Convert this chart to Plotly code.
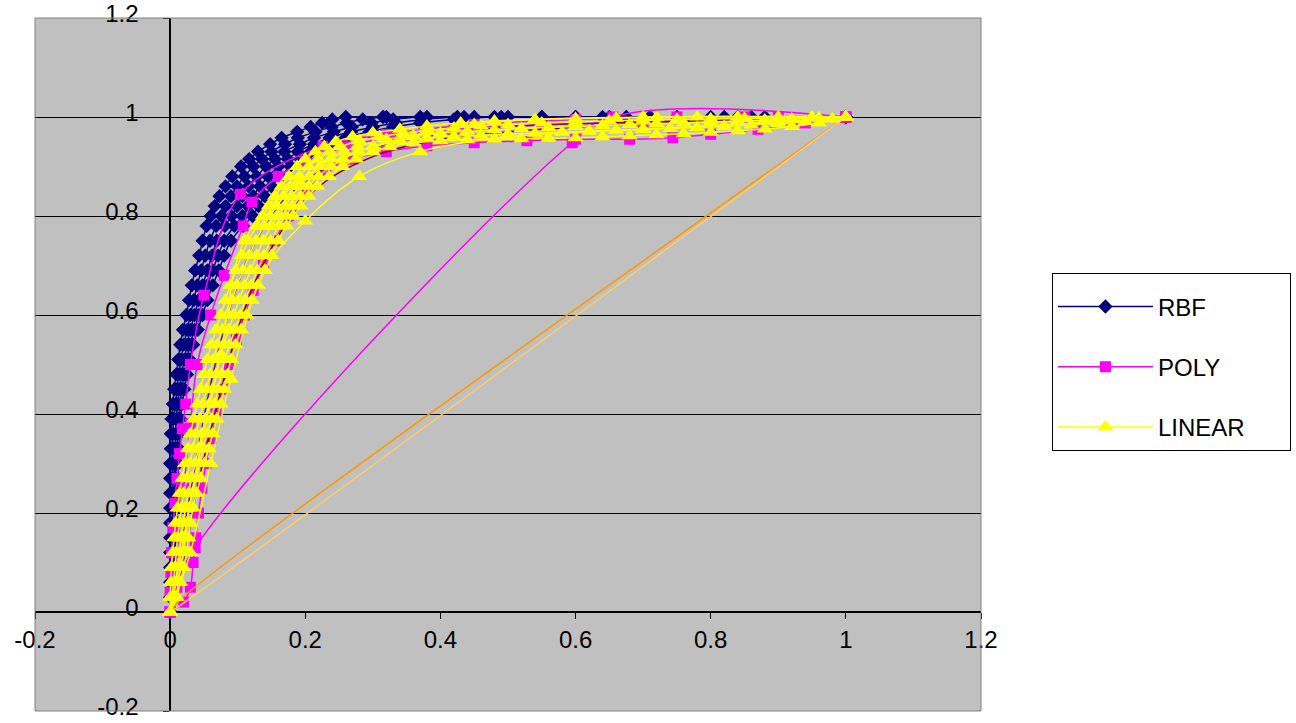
import plotly.graph_objects as go

# ---------------- data ----------------
# RBF runs (navy, diamonds): shared TPR levels, one FPR list per run
rbf_y = [0, 0.03, 0.06, 0.09, 0.12, 0.15, 0.18, 0.21, 0.24, 0.27, 0.3, 0.33, 0.36, 0.39, 0.42, 0.45, 0.48,
         0.51, 0.54, 0.57, 0.6, 0.63, 0.66, 0.69, 0.72, 0.75, 0.78, 0.8, 0.82, 0.84, 0.86, 0.88, 0.9, 0.915,
         0.93, 0.945, 0.958, 0.97, 0.98, 0.988, 0.995, 1, 1, 1, 1, 1, 1]
rbf1_x = [0, 0, 0, 0, 0, 0, 0, 0, 0, 0, 0, 0.001, 0.001, 0.002, 0.004, 0.006, 0.009, 0.012, 0.015, 0.019, 0.024,
          0.028, 0.032, 0.037, 0.043, 0.048, 0.054, 0.06, 0.066, 0.073, 0.082, 0.092, 0.105, 0.117, 0.13, 0.148,
          0.165, 0.188, 0.208, 0.225, 0.24, 0.26, 0.32, 0.45, 0.6, 0.8, 1]
rbf2_x = [0, 0.001, 0.002, 0.002, 0.002, 0.002, 0.003, 0.003, 0.003, 0.003, 0.003, 0.004, 0.004, 0.005, 0.008,
          0.01, 0.013, 0.016, 0.02, 0.025, 0.03, 0.035, 0.04, 0.046, 0.052, 0.059, 0.068, 0.076, 0.082, 0.09,
          0.099, 0.11, 0.123, 0.136, 0.15, 0.17, 0.189, 0.215, 0.239, 0.261, 0.285, 0.315, 0.38, 0.5, 0.64, 0.82, 1]
rbf3_x = [0, 0.002, 0.003, 0.004, 0.004, 0.005, 0.005, 0.005, 0.006, 0.006, 0.006, 0.007, 0.008, 0.009, 0.011,
          0.014, 0.017, 0.021, 0.025, 0.03, 0.036, 0.042, 0.048, 0.055, 0.062, 0.069, 0.081, 0.091, 0.099, 0.107,
          0.116, 0.128, 0.142, 0.155, 0.169, 0.192, 0.213, 0.242, 0.269, 0.298, 0.33, 0.37, 0.435, 0.55, 0.675,
          0.84, 1]
rbf4_x = [0, 0.003, 0.005, 0.005, 0.006, 0.007, 0.008, 0.008, 0.008, 0.008, 0.009, 0.01, 0.011, 0.012, 0.015,
          0.017, 0.021, 0.025, 0.029, 0.036, 0.042, 0.048, 0.055, 0.063, 0.071, 0.08, 0.095, 0.107, 0.115, 0.123,
          0.133, 0.145, 0.16, 0.174, 0.189, 0.213, 0.236, 0.268, 0.3, 0.334, 0.375, 0.425, 0.49, 0.6, 0.71, 0.86, 1]
rbf5_x = [0, 0.004, 0.006, 0.007, 0.008, 0.009, 0.01, 0.01, 0.011, 0.011, 0.012, 0.013, 0.014, 0.015, 0.018,
          0.021, 0.025, 0.029, 0.034, 0.041, 0.048, 0.055, 0.063, 0.072, 0.08, 0.09, 0.108, 0.122, 0.131, 0.14,
          0.15, 0.163, 0.178, 0.193, 0.208, 0.235, 0.26, 0.295, 0.33, 0.37, 0.42, 0.48, 0.55, 0.65, 0.75, 0.88, 1]

# POLY runs (magenta, squares)
poly1_x = [0, 0, 0.001, 0.002, 0.004, 0.007, 0.01, 0.014, 0.018, 0.023, 0.03, 0.05, 0.104, 0.226,
           0.32, 0.45, 0.6, 0.75, 0.9, 1]
poly1_y = [0, 0.04, 0.08, 0.12, 0.17, 0.22, 0.27, 0.32, 0.37, 0.42, 0.5, 0.64, 0.844, 0.941,
           0.965, 0.985, 0.995, 1, 1, 1]
poly2_x = [0, 0.01, 0.02, 0.03, 0.04, 0.06, 0.08, 0.108, 0.121, 0.16, 0.2, 0.26, 0.33, 0.42, 0.55, 0.7, 0.85, 1]
poly2_y = [0, 0.12, 0.25, 0.38, 0.5, 0.6, 0.68, 0.78, 0.828, 0.88, 0.91, 0.94, 0.96, 0.975, 0.985, 0.99, 1, 1]
poly3_x = [0, 0.02, 0.03, 0.034, 0.038, 0.042, 0.047, 0.053, 0.06, 0.068, 0.077, 0.087, 0.098, 0.11, 0.123,
           0.138, 0.155, 0.175, 0.2, 0.23, 0.27, 0.32, 0.38, 0.45, 0.528, 0.6, 0.68, 0.744, 0.8, 0.87, 0.94, 1]
poly3_y = [0, 0.02, 0.05, 0.1, 0.15, 0.2, 0.25, 0.3, 0.35, 0.4, 0.45, 0.5, 0.55, 0.6, 0.65, 0.7, 0.75, 0.8,
           0.85, 0.89, 0.915, 0.93, 0.942, 0.948, 0.952, 0.955, 0.955, 0.958, 0.965, 0.975, 0.988, 1]
poly4_x = [0, 0.01, 0.037, 0.595, 0.655, 1]
poly4_y = [0, 0.05, 0.13, 0.948, 1, 1]

# other unlabeled runs (dark lines inside the LINEAR band, orange diagonals)
maroon_x = [0, 0.02, 0.04, 0.07, 0.1, 0.13, 0.17, 0.22, 0.3, 0.4, 0.55, 0.75, 1]
maroon_y = [0, 0.1, 0.25, 0.42, 0.57, 0.68, 0.78, 0.86, 0.92, 0.955, 0.975, 0.99, 1]
purple_x = [0, 0.015, 0.035, 0.06, 0.09, 0.12, 0.16, 0.21, 0.28, 0.38, 0.5, 0.7, 1]
purple_y = [0, 0.12, 0.28, 0.46, 0.62, 0.73, 0.82, 0.88, 0.93, 0.96, 0.98, 0.99, 1]
orange1_x = [0, 0.015, 1]
orange1_y = [0, 0.025, 1]
orange2_x = [0, 0.022, 1]
orange2_y = [0, 0.02, 1]

# LINEAR runs (yellow, triangles): shared TPR levels on the steep part, own tail near TPR = 1
lin_steep_y = [0, 0.03, 0.06, 0.09, 0.12, 0.15, 0.18, 0.21, 0.24, 0.27, 0.3, 0.33, 0.36, 0.39, 0.42, 0.45, 0.48,
               0.51, 0.54, 0.57, 0.6, 0.63, 0.66, 0.69, 0.72, 0.75, 0.78, 0.8, 0.82, 0.84, 0.86, 0.88, 0.9,
               0.915, 0.93, 0.94]
lin1_steep_x = [0, 0, 0.001, 0.002, 0.004, 0.006, 0.008, 0.011, 0.014, 0.018, 0.022, 0.026, 0.03, 0.035, 0.04,
                0.045, 0.05, 0.055, 0.061, 0.068, 0.075, 0.082, 0.089, 0.097, 0.106, 0.116, 0.128, 0.137, 0.146,
                0.155, 0.165, 0.176, 0.188, 0.2, 0.215, 0.228]
lin1_tail_x = [0.245, 0.27, 0.3, 0.34, 0.38, 0.43, 0.48, 0.54, 0.6, 0.66, 0.72, 0.78, 0.84, 0.9, 0.95, 1]
lin1_tail_y = [0.95, 0.96, 0.968, 0.975, 0.982, 0.988, 0.992, 0.995, 0.997, 0.998, 0.999, 1, 1, 1, 1, 1]
lin2_steep_x = [0, 0.003, 0.005, 0.007, 0.009, 0.011, 0.014, 0.017, 0.02, 0.025, 0.029, 0.034, 0.038, 0.044,
                0.049, 0.054, 0.059, 0.064, 0.07, 0.077, 0.085, 0.092, 0.099, 0.108, 0.117, 0.127, 0.139, 0.148,
                0.158, 0.168, 0.178, 0.191, 0.205, 0.219, 0.236, 0.252]
lin2_tail_x = [0.28, 0.31, 0.345, 0.38, 0.42, 0.46, 0.5, 0.55, 0.6, 0.65, 0.7, 0.75, 0.8, 0.85, 0.9, 0.95, 1]
lin2_tail_y = [0.952, 0.96, 0.967, 0.973, 0.978, 0.982, 0.985, 0.988, 0.99, 0.992, 0.994, 0.995, 0.996, 0.997,
               0.998, 0.999, 1]
lin3_steep_x = [0, 0.005, 0.008, 0.011, 0.014, 0.017, 0.019, 0.023, 0.027, 0.032, 0.037, 0.042, 0.047, 0.052,
                0.058, 0.063, 0.068, 0.073, 0.079, 0.087, 0.094, 0.102, 0.11, 0.119, 0.128, 0.138, 0.15, 0.16,
                0.17, 0.18, 0.192, 0.206, 0.222, 0.238, 0.258, 0.277]
lin3_tail_x = [0.32, 0.36, 0.4, 0.44, 0.48, 0.52, 0.56, 0.6, 0.64, 0.68, 0.72, 0.76, 0.8, 0.84, 0.88, 0.92, 0.96, 1]
lin3_tail_y = [0.955, 0.962, 0.967, 0.971, 0.974, 0.977, 0.979, 0.981, 0.983, 0.985, 0.987, 0.988, 0.99, 0.992,
               0.994, 0.996, 0.998, 1]
lin4_steep_x = [0, 0.008, 0.012, 0.016, 0.019, 0.022, 0.025, 0.028, 0.033, 0.038, 0.044, 0.049, 0.055, 0.061,
                0.066, 0.071, 0.076, 0.081, 0.088, 0.096, 0.104, 0.111, 0.12, 0.129, 0.139, 0.149, 0.161, 0.171,
                0.181, 0.193, 0.205, 0.22, 0.238, 0.256, 0.279, 0.301]
lin4_tail_x = [0.34, 0.38, 0.42, 0.46, 0.5, 0.54, 0.58, 0.62, 0.66, 0.7, 0.74, 0.78, 0.82, 0.86, 0.9, 0.94, 0.98, 1]
lin4_tail_y = [0.952, 0.958, 0.961, 0.963, 0.965, 0.967, 0.969, 0.971, 0.973, 0.975, 0.977, 0.979, 0.981, 0.984,
               0.987, 0.991, 0.996, 1]
lin5_steep_x = [0, 0.01, 0.015, 0.02, 0.024, 0.027, 0.03, 0.034, 0.039, 0.045, 0.051, 0.057, 0.063, 0.069, 0.075,
                0.08, 0.085, 0.09, 0.097, 0.105, 0.113, 0.121, 0.13, 0.14, 0.15, 0.16, 0.172, 0.182, 0.193, 0.205,
                0.218, 0.235, 0.255, 0.275, 0.3, 0.325]
lin5_tail_x = [0.36, 0.4, 0.44, 0.48, 0.52, 0.56, 0.6, 0.64, 0.68, 0.72, 0.76, 0.8, 0.84, 0.88, 0.92, 0.96, 1]
lin5_tail_y = [0.948, 0.952, 0.954, 0.955, 0.956, 0.957, 0.958, 0.96, 0.962, 0.964, 0.966, 0.969, 0.972, 0.976,
               0.981, 0.988, 1]
lin6_x = [0, 0.02, 0.045, 0.075, 0.11, 0.19, 0.3, 0.45, 0.7, 1]
lin6_y = [0, 0.15, 0.33, 0.52, 0.75, 0.87, 0.94, 0.985, 1, 1]
lin7_x = [0, 0.03, 0.06, 0.09, 0.14, 0.2, 0.28, 0.37, 0.5, 0.7, 0.9, 1]
lin7_y = [0, 0.12, 0.3, 0.47, 0.69, 0.79, 0.88, 0.93, 0.96, 0.975, 0.99, 1]

tick_vals = [-0.2, 0, 0.2, 0.4, 0.6, 0.8, 1, 1.2]
tick_text = ["-0.2", "0", "0.2", "0.4", "0.6", "0.8", "1", "1.2"]

# ---------------- figure ----------------
NAVY = "#000080"
MAG = "#FF00FF"
YEL = "#FFFF00"
FONT = "Arial, Liberation Sans, sans-serif"
PAD = "\u00a0" * 6

fig = go.Figure()


def add_run(x, y, name, color, symbol, size, group, show, width=1.5, mode="lines+markers", smoothing=1.0):
    fig.add_trace(go.Scatter(
        x=x, y=y, name=name, mode=mode,
        line=dict(color=color, width=width, shape="spline", smoothing=smoothing),
        marker=dict(symbol=symbol, size=size, color=color, line=dict(width=0)),
        legendgroup=group, showlegend=show,
    ))


for i, x in enumerate([rbf1_x, rbf2_x, rbf3_x, rbf4_x, rbf5_x]):
    add_run(x, rbf_y, "RBF" + PAD, NAVY, "diamond", 11, "rbf", i == 0)

for i, (x, y) in enumerate([(poly1_x, poly1_y), (poly2_x, poly2_y), (poly3_x, poly3_y)]):
    add_run(x, y, "POLY" + PAD, MAG, "square", 11, "poly", i == 0)
add_run(poly4_x, poly4_y, "POLY" + PAD, MAG, "square", 11, "poly", False, smoothing=1.3)

add_run(maroon_x, maroon_y, "run", "#800000", "circle", 4, "other", False, mode="lines")
add_run(purple_x, purple_y, "run", "#800080", "circle", 4, "other", False, mode="lines")
add_run(orange1_x, orange1_y, "run", "#FF9900", "circle", 4, "other", False, mode="lines")
add_run(orange2_x, orange2_y, "run", "#FFCC66", "circle", 4, "other", False, mode="lines")

lin_runs = [
    (lin1_steep_x + lin1_tail_x, lin_steep_y + lin1_tail_y),
    (lin2_steep_x + lin2_tail_x, lin_steep_y + lin2_tail_y),
    (lin3_steep_x + lin3_tail_x, lin_steep_y + lin3_tail_y),
    (lin4_steep_x + lin4_tail_x, lin_steep_y + lin4_tail_y),
    (lin5_steep_x + lin5_tail_x, lin_steep_y + lin5_tail_y),
    (lin6_x, lin6_y),
    (lin7_x, lin7_y),
]
for i, (x, y) in enumerate(lin_runs):
    add_run(x, y, "LINEAR" + PAD, YEL, "triangle-up", 14, "linear", i == 0)

axis_common = dict(
    range=[-0.2, 1.2], tickmode="array", tickvals=tick_vals, ticktext=tick_text,
    ticks="outside", ticklen=6, tickcolor="black", tickwidth=1,
    showline=True, linecolor="black", linewidth=1.5,
    zeroline=False, layer="below traces", ticklabeloverflow="allow",
    tickfont=dict(family=FONT, size=24, color="black"),
    anchor="free", position=1 / 7,
)

fig.update_layout(
    width=1296, height=723,
    margin=dict(l=35, r=315, t=18, b=12, autoexpand=False),
    paper_bgcolor="white", plot_bgcolor="#C0C0C0",
    xaxis=dict(**axis_common, showgrid=False, ticklabelstandoff=0),
    yaxis=dict(**axis_common, showgrid=True, gridcolor="black", gridwidth=1,
               ticklabelstandoff=20, ticklabelshift=-4),
    legend=dict(
        x=1.075, y=0.632, xanchor="left", yanchor="top",
        bordercolor="black", borderwidth=1, bgcolor="white",
        font=dict(family=FONT, size=24, color="black"),
        title=dict(text="\u00a0", font=dict(size=8)),
        traceorder="grouped", tracegroupgap=26, itemwidth=95,
    ),
    showlegend=True,
)

fig.add_shape(type="rect", xref="paper", yref="paper", x0=0, y0=0, x1=1, y1=1,
              line=dict(color="#808080", width=1), layer="above")

fig.write_html("out.html")
